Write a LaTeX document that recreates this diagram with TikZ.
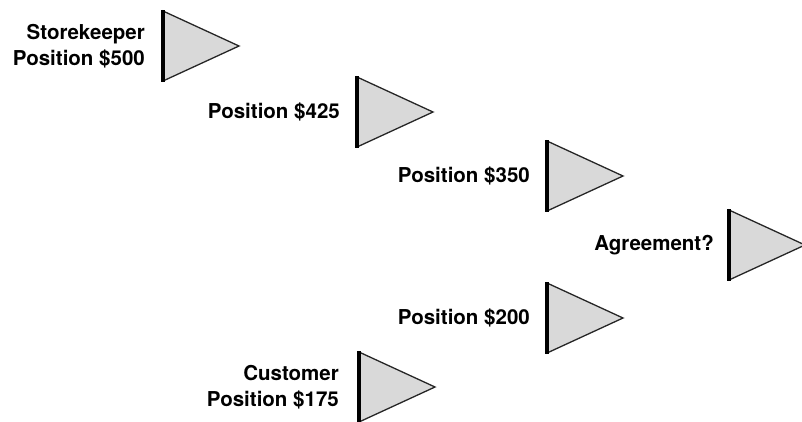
\documentclass[tikz,border=0pt]{standalone}
\usepackage{fontspec}
\setmainfont{TeX Gyre Heros}
\begin{document}
\begin{tikzpicture}[x=1pt,y=-1pt,
  lbl/.style={anchor=east,align=right,font=\fontsize{20.5}{26}\selectfont\bfseries,inner sep=0pt},
  tri/.pic={
    \filldraw[fill=black!15,draw=black!85,line width=1.3pt,line join=miter] (0,-35) -- (76,0) -- (0,35) -- cycle;
    \draw[black,line width=3.2pt] (0,-36) -- (0,36);
  }]
\useasboundingbox (0,0) rectangle (802,421);
\pic at (163,46) {tri};
\pic at (357,112) {tri};
\pic at (547,176) {tri};
\pic at (729,245) {tri};
\pic at (547,318) {tri};
\pic at (359,387) {tri};
\node[lbl] (s500) at (145,46) {Storekeeper\\Position \$500};
\node[lbl] (p425) at (340,112) {Position \$425};
\node[lbl] (p350) at (530,176) {Position \$350};
\node[lbl] (agr) at (714,245) {Agreement?};
\node[lbl] (p200) at (530,318) {Position \$200};
\node[lbl] (c175) at (339,387) {Customer\\Position \$175};
\end{tikzpicture}
\end{document}
